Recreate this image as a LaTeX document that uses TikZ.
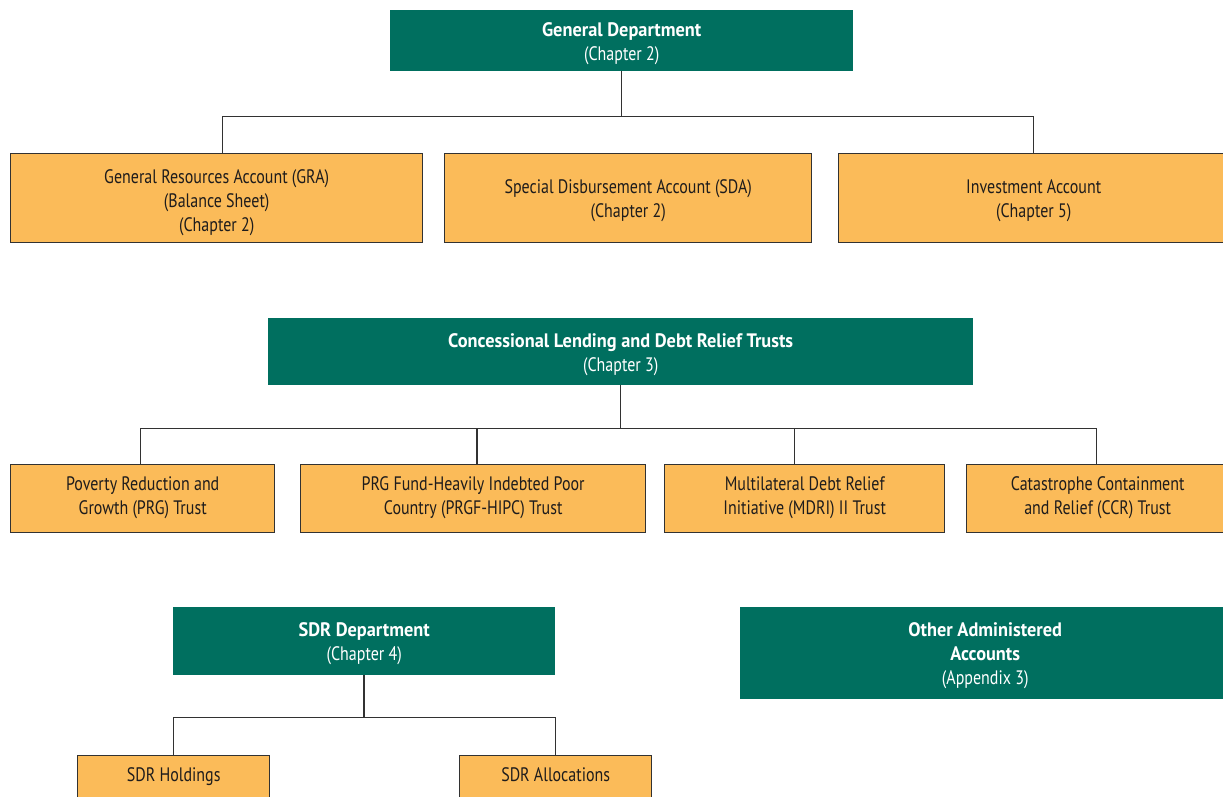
\documentclass[tikz,border=0pt]{standalone}
\usepackage{fontspec}
\setmainfont{PT Sans}[FakeStretch=0.82, BoldFeatures={FakeStretch=0.94}]
\definecolor{dgreen}{RGB}{0,111,95}
\definecolor{lorange}{RGB}{251,187,89}
\definecolor{edge}{RGB}{50,50,50}
\definecolor{txt}{RGB}{30,28,28}
\newcommand{\upl}{\rule{0pt}{19pt}}
\newcommand{\dnl}{\rule[-7pt]{0pt}{7pt}}
\tikzset{
  grbox/.style={fill=dgreen, draw=none, text=white, align=center, inner sep=0pt, anchor=north west, font=\fontsize{19.5}{24}\selectfont},
  orbox/.style={fill=lorange, draw=edge, line width=1.4pt, text=txt, align=center, inner sep=0pt, anchor=north west, font=\fontsize{19.5}{24}\selectfont},
  conn/.style={draw=edge, line width=1.5pt}
}
\begin{document}
\begin{tikzpicture}[x=1pt,y=-1pt]
\useasboundingbox (0,0) rectangle (1223,796);
\clip (0,0) rectangle (1223,796);
% General Department
\node[grbox, minimum width=463pt, minimum height=61pt] (gd) at (390,10) {\upl\textbf{General Department}\\(Chapter 2)};
\node[orbox, minimum width=412pt, minimum height=89pt] (gra) at (10,153) {\rule{0pt}{23pt}General Resources Account (GRA)\\(Balance Sheet)\\(Chapter 2)};
\node[orbox, minimum width=367pt, minimum height=89pt] (sda) at (444,153) {\upl Special Disbursement Account (SDA)\\(Chapter 2)};
\node[orbox, minimum width=390pt, minimum height=89pt] (inv) at (838,153) {\upl Investment Account\\(Chapter 5)};
\draw[conn] (gd.south) -- ++(0,45) coordinate (b1);
\draw[conn] ([xshift=6pt]gra.north) |- (b1);
\draw[conn] (inv.north) |- (b1);
% Concessional
\node[grbox, minimum width=705pt, minimum height=67pt] (clt) at (268,318) {\upl\textbf{Concessional Lending and Debt Relief Trusts}\\(Chapter 3)};
\node[orbox, minimum width=264pt, minimum height=68pt] (prg) at (10,464) {Poverty Reduction and\\Growth (PRG) Trust\dnl};
\node[orbox, minimum width=345pt, minimum height=68pt] (hipc) at (300,464) {PRG Fund-Heavily Indebted Poor\\Country (PRGF-HIPC) Trust\dnl};
\node[orbox, minimum width=280pt, minimum height=68pt] (mdri) at (664,464) {Multilateral Debt Relief\\Initiative (MDRI) II Trust\dnl};
\node[orbox, minimum width=262pt, minimum height=68pt] (ccr) at (966,464) {Catastrophe Containment\\and Relief (CCR) Trust\dnl};
\draw[conn] (clt.south) -- ++(0,43) coordinate (b2);
\draw[conn] ([xshift=-2pt]prg.north) |- (b2);
\draw[conn] ([xshift=4pt]hipc.north) |- (b2);
\draw[conn] ([xshift=-10pt]mdri.north) |- (b2);
\draw[conn] ([xshift=-1pt]ccr.north) |- (b2);
% SDR
\node[grbox, minimum width=382pt, minimum height=68pt] (sdr) at (173,607) {\upl\textbf{SDR Department}\\(Chapter 4)};
\node[orbox, minimum width=192pt, minimum height=50pt] (hold) at (77,755) {\raisebox{12pt}{SDR Holdings}};
\node[orbox, minimum width=192pt, minimum height=50pt] (alloc) at (459,755) {\raisebox{12pt}{SDR Allocations}};
\draw[conn] (sdr.south) -- ++(0,42) coordinate (b3);
\draw[conn] (hold.north) |- (b3);
\draw[conn] (alloc.north) |- (b3);
% Other
\node[grbox, minimum width=490pt, minimum height=92pt] (oth) at (740,607) {\upl\textbf{Other Administered}\\\textbf{Accounts}\\(Appendix 3)};
\end{tikzpicture}
\end{document}
